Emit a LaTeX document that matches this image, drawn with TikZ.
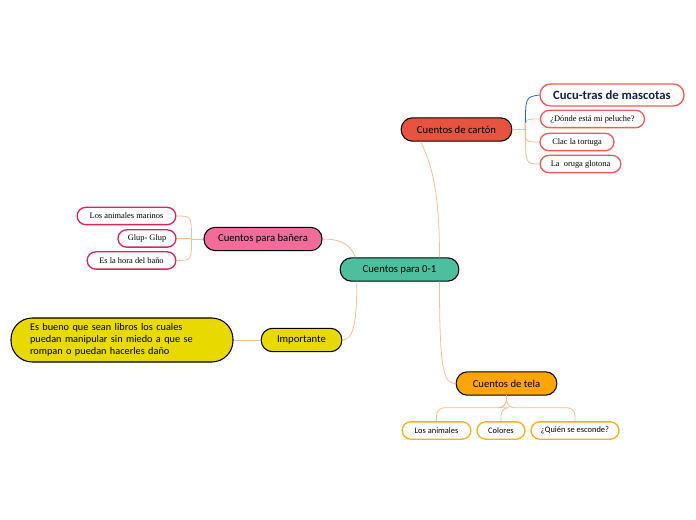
\documentclass[tikz,border=0pt]{standalone}
\usepackage{fontspec}
\setmainfont{Carlito}
\newfontfamily\leafserif{Liberation Serif}
\usepackage{xcolor}
\usepackage{tikz}
\usetikzlibrary{calc,positioning}

\definecolor{rootgreen}{HTML}{4DBE9E}
\definecolor{cartonred}{HTML}{E8533F}
\definecolor{banerapink}{HTML}{F26B9B}
\definecolor{impyellow}{HTML}{E8D900}
\definecolor{telaorange}{HTML}{FFA500}
\definecolor{linkorange}{HTML}{F9BC95}
\definecolor{leafred}{HTML}{F25B5B}
\definecolor{leafcrimson}{HTML}{E0245A}
\definecolor{leaforange}{HTML}{FFAE1F}
\definecolor{cucublue}{HTML}{2563E0}
\definecolor{cucunavy}{HTML}{14214F}

\tikzset{
  topic/.style={draw=black, line width=0.8pt, rounded corners=8.5pt, minimum height=17.5pt, inner sep=0pt, font=\fontsize{8}{9.5}\selectfont},
  leaf/.style={draw=#1, line width=1pt, fill=white, rounded corners=6.5pt, minimum height=13pt, inner sep=0pt, font=\leafserif\fontsize{6.3}{7}\selectfont},
  link/.style={draw=linkorange, line width=0.6pt}
}

\begin{document}
\begin{tikzpicture}[x=0.75pt,y=-0.75pt]

  \useasboundingbox (0,0) rectangle (696,520);

  \node[topic, fill=rootgreen, minimum width=89pt] (root) at (399.5,269.5) {Cuentos para 0-1};

  \node[topic, fill=cartonred, minimum width=83pt] (carton) at (456.5,129.5) {Cuentos de cart\'on};
    \node[leaf=leafred, minimum width=108pt, minimum height=16.5pt, rounded corners=8pt, font=\bfseries\fontsize{9.5}{10}\selectfont, text=cucunavy] (cucu) at (612,95) {Cucu-tras de mascotas};
    \node[leaf=leafred, minimum width=78pt] (donde) at (592.5,119) {¿Dónde está mi peluche?};
    \node[leaf=leafred, minimum width=55.5pt] (clac) at (577,142) {Clac la tortuga};
    \node[leaf=leafred, minimum width=60.5pt] (oruga) at (580.5,164) {La \ oruga glotona};

  \node[topic, fill=banerapink, minimum width=88.5pt] (banera) at (263,239) {Cuentos para bañera};
    \node[leaf=leafcrimson, minimum width=74pt] (marinos) at (126.5,216) {Los animales marinos};
    \node[leaf=leafcrimson, minimum width=43.5pt] (glup) at (147,238.5) {Glup- Glup};
    \node[leaf=leafcrimson, minimum width=66.5pt] (hora) at (131.5,260.5) {Es la hora del baño};

  \node[topic, fill=impyellow, minimum width=60.5pt] (imp) at (301.5,340) {Importante};
    \node[draw=black, line width=0.8pt, fill=impyellow, rounded corners=16pt, minimum width=166.5pt, minimum height=33pt, inner sep=0pt, text width=138pt, align=left, font=\fontsize{7.7}{9}\selectfont] (nota) at (122,340) {Es bueno que sean libros los cuales\\puedan manipular sin miedo a que se\\rompan o puedan hacerles daño};

  \node[topic, fill=telaorange, minimum width=75.5pt] (tela) at (506.5,383.5) {Cuentos de tela};
    \node[leaf=leaforange, minimum width=51.5pt, font=\fontsize{6.3}{7}\selectfont] (animales) at (436.5,430.5) {Los animales};
    \node[leaf=leaforange, minimum width=36pt, font=\fontsize{6.3}{7}\selectfont] (colores) at (501,430.5) {Colores};
    \node[leaf=leaforange, minimum width=66pt, font=\fontsize{6.3}{7}\selectfont] (quien) at (575,430.5) {¿Quién se esconde?};

  % main branches
  \draw[link] ([xshift=30pt]root.north) .. controls ++(0,-70) and ++(10,20) .. ([xshift=-27pt]carton.south);
  \draw[link] (banera.east) .. controls ++(22,0) and ++(-4,-10) .. ([xshift=-33pt]root.north);
  \draw[link] ([xshift=-32pt]root.south) .. controls ++(0,45) and ++(10,0) .. (imp.east);
  \draw[link] ([xshift=30pt]root.south) .. controls ++(0,90) and ++(-12,0) .. (tela.west);

  \draw[link] (imp.west) -- (nota.east);

  % carton leaves
  \coordinate (cfork) at ($(carton.east)+(13,0)$);
  \draw[link, line width=1.2pt] (carton.east) -- (cfork);
  \draw[draw=cucublue, line width=0.6pt] (cfork) .. controls ($(cfork|-cucu.west)+(0,2)$) .. (cucu.west);
  \foreach \leafname in {donde,clac,oruga}
    \draw[link] (cfork) .. controls (cfork|-\leafname.west) .. (\leafname.west);

  % banera leaves
  \coordinate (bfork) at ($(banera.west)+(-12,0)$);
  \draw[link] (banera.west) -- (bfork);
  \foreach \leafname in {marinos,glup,hora}
    \draw[link] (bfork) .. controls (bfork|-\leafname.east) .. (\leafname.east);

  % tela leaves
  \foreach \leafname in {animales,colores,quien}
    \draw[link, rounded corners=6pt] (tela.south) -- ++(0,12) -| (\leafname.north);

\end{tikzpicture}
\end{document}
